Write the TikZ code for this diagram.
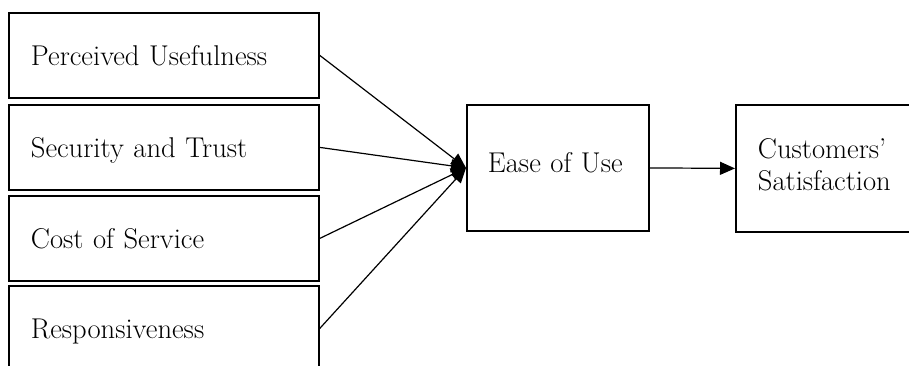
\documentclass[tikz,border=0pt]{standalone}
\usepackage{fontspec}
\setmainfont{Latin Modern Roman}
\usetikzlibrary{arrows.meta}
\begin{document}
\begin{tikzpicture}[x=1pt,y=-1pt,
  txt/.style={font=\fontsize{28.6}{32}\selectfont},
  box/.style={draw,line width=1.8pt,rectangle,anchor=north west,txt,
    inner ysep=0pt,align=left},
  factor/.style={box,minimum width=310pt,minimum height=85pt,inner xsep=22pt,
    text width=266pt,text height=24pt,text depth=4pt},
  midbox/.style={box,minimum width=182pt,minimum height=126pt,inner xsep=21pt,
    text width=140pt,text height=14pt,text depth=4pt},
  endbox/.style={box,minimum width=220pt,minimum height=127pt,inner xsep=22pt,
    text width=176pt,text height=20pt,text depth=40pt},
  link/.style={line width=1.2pt,-{Triangle[length=15pt,width=13pt]}}]
  \path[use as bounding box,clip] (0,0) rectangle (909,365);

  % the four factors on the left
  \node[factor] (pu) at (8,12)  {Perceived Usefulness};
  \node[factor] (st) at (8,104) {Security and Trust};
  \node[factor] (cs) at (8,195) {Cost of Service};
  \node[factor] (rs) at (8,285) {Responsiveness};

  % mediator and outcome
  \node[midbox] (eu) at (466,104) {Ease of Use};
  \node[endbox] (cu) at (735,104) {Customers'\\Satisfaction};

  % paths
  \draw[link] (pu.east) -- (eu.west);
  \draw[link] (st.east) -- (eu.west);
  \draw[link] (cs.east) -- (eu.west);
  \draw[link] (rs.east) -- (eu.west);
  \draw[link] (eu.east) -- (cu.west);
\end{tikzpicture}
\end{document}
